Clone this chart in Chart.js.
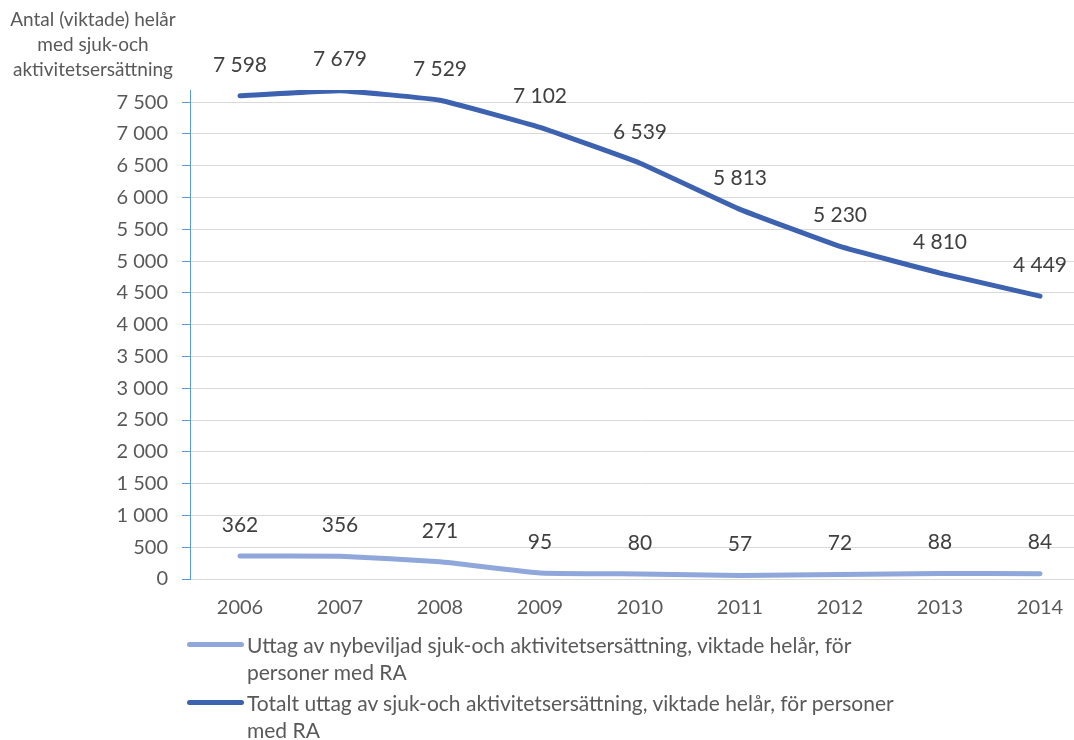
<!DOCTYPE html>
<html>
<head>
<meta charset="utf-8">
<script src="https://cdn.jsdelivr.net/npm/chart.js@4"></script>
<style>
  html, body { margin: 0; padding: 0; background: #fff; overflow: hidden; }
  body { width: 1074px; height: 740px; position: relative; font-family: Lato, "Open Sans", sans-serif; color: #595959; }
  #wrap { position: absolute; left: 0; top: 0; width: 1090px; height: 740px; }
  #ytitle { position: absolute; left: 0px; top: 6px; width: 186px; text-align: center; font-size: 19px; line-height: 25px; }
  .leg { position: absolute; left: 187px; font-size: 21px; line-height: 27px; }
  .leg .sw { position: absolute; left: 0; top: 11px; width: 57px; height: 5px; border-radius: 3px; }
  .leg .tx { margin-left: 60px; width: 760px; }
</style>
</head>
<body>
<div id="wrap"><canvas id="chart" width="1090" height="740"></canvas></div>
<div id="ytitle">Antal (viktade) helår<br>med sjuk-och<br>aktivitetsersättning</div>
<div class="leg" style="top:631px"><div class="sw" style="background:#8FA7DA"></div><div class="tx">Uttag av nybeviljad sjuk-och aktivitetsersättning, viktade helår, för<br>personer med RA</div></div>
<div class="leg" style="top:689px"><div class="sw" style="background:#3D62B0"></div><div class="tx">Totalt uttag av sjuk-och aktivitetsersättning, viktade helår, för personer<br>med RA</div></div>
<script>
const years = ["2006", "2007", "2008", "2009", "2010", "2011", "2012", "2013", "2014"];
const newGranted = [362, 356, 271, 95, 80, 57, 72, 88, 84];
const totalUse = [7598, 7679, 7529, 7102, 6539, 5813, 5230, 4810, 4449];
const yTicks = [0, 500, 1000, 1500, 2000, 2500, 3000, 3500, 4000, 4500, 5000, 5500, 6000, 6500, 7000, 7500];
const seriesNames = [
  "Uttag av nybeviljad sjuk-och aktivitetsersättning, viktade helår, för personer med RA",
  "Totalt uttag av sjuk-och aktivitetsersättning, viktade helår, för personer med RA"
];

function fmt(n) {
  return String(n).replace(/\B(?=(\d{3})+(?!\d))/g, " ");
}

const labelPlugin = {
  id: "valueLabels",
  afterDatasetsDraw(chart) {
    const ctx = chart.ctx;
    ctx.save();
    ctx.font = "21px Lato";
    ctx.fillStyle = "#404040";
    ctx.textAlign = "center";
    ctx.textBaseline = "middle";
    chart.data.datasets.forEach((ds, i) => {
      chart.getDatasetMeta(i).data.forEach((pt, j) => {
        ctx.fillText(fmt(ds.data[j]), pt.x, pt.y - 31);
      });
    });
    ctx.restore();
  }
};

new Chart(document.getElementById("chart"), {
  type: "line",
  data: {
    labels: years,
    datasets: [
      { label: seriesNames[0], data: newGranted, borderColor: "#8FA7DA", borderWidth: 5, pointRadius: 0, tension: 0.1, borderCapStyle: "round" },
      { label: seriesNames[1], data: totalUse, borderColor: "#3D62B0", borderWidth: 5, pointRadius: 0, tension: 0.1, borderCapStyle: "round" }
    ]
  },
  options: {
    responsive: false,
    animation: false,
    layout: { padding: { top: 90, right: 0, bottom: 111, left: 0 } },
    plugins: { legend: { display: false }, tooltip: { enabled: false } },
    scales: {
      x: {
        offset: true,
        grid: { display: false, drawTicks: false },
        border: { display: false },
        ticks: { color: "#595959", font: { family: "Lato", size: 20 }, padding: 17 },
        afterFit(s) { s.height = 50; }
      },
      y: {
        min: 0,
        max: 7690,
        afterBuildTicks(s) { s.ticks = yTicks.map(v => ({ value: v })); },
        ticks: { color: "#595959", font: { family: "Lato", size: 20 }, padding: 14, callback: v => fmt(v) },
        grid: { color: "#D9D9D9", tickColor: "#5B9BD5", tickLength: 8 },
        border: { color: "#5B9BD5", width: 1 },
        afterFit(s) { s.width = 190; }
      }
    }
  },
  plugins: [labelPlugin]
});
</script>
</body>
</html>
